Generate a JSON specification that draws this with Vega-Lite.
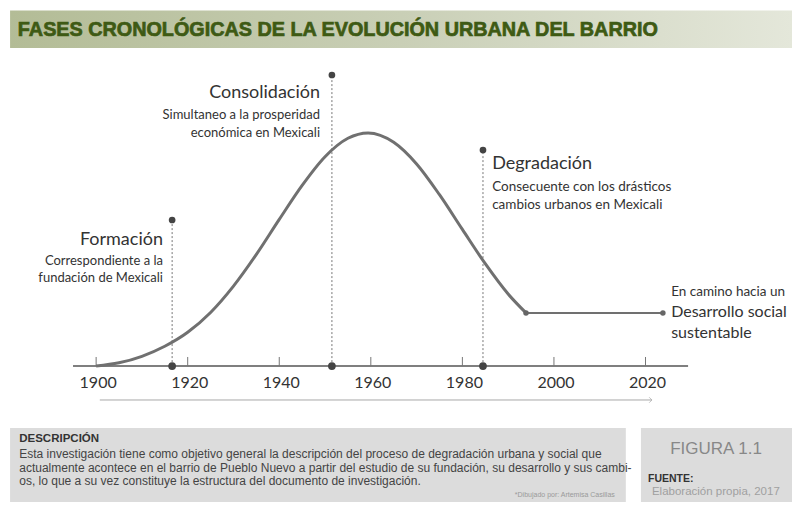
{
  "$schema": "https://vega.github.io/schema/vega-lite/v6.json",
  "width": 792,
  "height": 506,
  "padding": 0,
  "autosize": {"type": "none"},
  "background": "#ffffff",
  "config": {"view": {"stroke": null}},
  "datasets": {
    "encabezado": [{"x1": 1881.2, "x2": 2052, "y1": 152.5, "y2": 136.4}],
    "titulo": [{"anio": 1882.9, "v": 144.3, "texto": "FASES CRONOLÓGICAS DE LA EVOLUCIÓN URBANA DEL BARRIO"}],
    "cajas": [
      {"x1": 1881.2, "x2": 2015.7, "y1": -26.55, "y2": -58.3},
      {"x1": 2019.0, "x2": 2052, "y1": -26.55, "y2": -58.3}
    ],
    "eje": [{"x1": 1894.95, "x2": 2029.3, "v": 0}],
    "marcas": [
      {"anio": 1900, "etiqueta": "1900", "base": 0, "alto": 3.9, "fila": -7.25},
      {"anio": 1920, "etiqueta": "1920", "base": 0, "alto": 3.9, "fila": -7.25},
      {"anio": 1940, "etiqueta": "1940", "base": 0, "alto": 3.9, "fila": -7.25},
      {"anio": 1960, "etiqueta": "1960", "base": 0, "alto": 3.9, "fila": -7.25},
      {"anio": 1980, "etiqueta": "1980", "base": 0, "alto": 3.9, "fila": -7.25},
      {"anio": 2000, "etiqueta": "2000", "base": 0, "alto": 3.9, "fila": -7.25},
      {"anio": 2020, "etiqueta": "2020", "base": 0, "alto": 3.9, "fila": -7.25}
    ],
    "flecha": [{"x1": 1900.8, "x2": 2021.4, "v": -14.54}],
    "fases": [
      {"anio": 1916.6, "base": 0, "tope": 62.65},
      {"anio": 1951.5, "base": 0, "tope": 124.84},
      {"anio": 1984.5, "base": 0, "tope": 92.67}
    ],
    "curva": [
      {"anio": 1900, "v": 0},
      {"anio": 1905, "v": 1.4},
      {"anio": 1910, "v": 4.2},
      {"anio": 1915, "v": 8.5},
      {"anio": 1920, "v": 14.5},
      {"anio": 1925, "v": 23.0},
      {"anio": 1930, "v": 34.3},
      {"anio": 1935, "v": 47.9},
      {"anio": 1940, "v": 62.9},
      {"anio": 1945, "v": 77.5},
      {"anio": 1950, "v": 89.8},
      {"anio": 1955, "v": 97.7},
      {"anio": 1959.4, "v": 100},
      {"anio": 1965, "v": 96.0},
      {"anio": 1970, "v": 86.7},
      {"anio": 1975, "v": 73.5},
      {"anio": 1980, "v": 58.6},
      {"anio": 1985, "v": 43.9},
      {"anio": 1990, "v": 30.9},
      {"anio": 1993.9, "v": 22.8}
    ],
    "meseta": [
      {"anio": 1993.9, "v": 22.8},
      {"anio": 2023.8, "v": 22.8}
    ],
    "fase_titulo_der": [
      {"anio": 1914.6, "v": 54.07, "texto": "Formación"},
      {"anio": 1948.9, "v": 117.12, "texto": "Consolidación"}
    ],
    "fase_sub_der": [
      {"anio": 1914.6, "v": 45.07, "texto": "Correspondiente a la"},
      {"anio": 1914.6, "v": 37.78, "texto": "fundación de Mexicali"},
      {"anio": 1948.9, "v": 107.68, "texto": "Simultaneo a la prosperidad"},
      {"anio": 1948.9, "v": 99.96, "texto": "económica en Mexicali"}
    ],
    "fase_titulo_izq": [
      {"anio": 1986.5, "v": 86.67, "texto": "Degradación"}
    ],
    "desarrollo": [
      {"anio": 2025.6, "v": 23.2, "texto": "Desarrollo social"},
      {"anio": 2025.6, "v": 14.0, "texto": "sustentable"}
    ],
    "fase_sub_izq": [
      {"anio": 1986.5, "v": 76.8, "texto": "Consecuente con los drásticos"},
      {"anio": 1986.5, "v": 69.08, "texto": "cambios urbanos en Mexicali"},
      {"anio": 2025.6, "v": 31.9, "texto": "En camino hacia un"}
    ],
    "desc_titulo": [{"anio": 1883.2, "v": -31.27, "texto": "DESCRIPCIÓN"}],
    "desc_cuerpo": [
      {"anio": 1883.2, "v": -37.9, "texto": "Esta investigación tiene como objetivo general la descripción del proceso de degradación urbana y social que"},
      {"anio": 1883.2, "v": -43.5, "texto": "actualmente acontece en el barrio de Pueblo Nuevo a partir del estudio de su fundación, su desarrollo y sus cambi-"},
      {"anio": 1883.2, "v": -49.1, "texto": "os, lo que a su vez constituye la estructura del documento de investigación."}
    ],
    "credito": [{"anio": 2013.3, "v": -55.28, "texto": "*Dibujado por: Artemisa Casillas"}],
    "figura": [{"anio": 2035.4, "v": -35.6, "texto": "FIGURA 1.1"}],
    "fuente": [{"anio": 2020.55, "v": -48.4, "texto": "FUENTE:"}],
    "fuente_txt": [{"anio": 2021.4, "v": -54.0, "texto": "Elaboración propia, 2017"}]
  },
  "layer": [
    {
      "data": {"name": "encabezado"},
      "mark": {"type": "rect", "fill": {"gradient": "linear", "x1": 0, "y1": 0, "x2": 1, "y2": 0, "stops": [{"offset": 0, "color": "#b3bc96"}, {"offset": 0.5, "color": "#c9cfb6"}, {"offset": 1, "color": "#e4e7da"}]}},
      "encoding": {
        "x": {"field": "x1", "type": "quantitative", "scale": {"domain": [1879, 2052], "nice": false, "zero": false}, "axis": null},
        "x2": {"field": "x2"},
        "y": {"field": "y1", "type": "quantitative", "scale": {"domain": [-60, 157], "nice": false, "zero": false}, "axis": null},
        "y2": {"field": "y2"}
      }
    },
    {
      "data": {"name": "titulo"},
      "mark": {"type": "text", "align": "left", "baseline": "middle", "font": "Liberation Sans", "fontWeight": "bold", "fontSize": 19.8, "color": "#3e5a14", "stroke": "#3e5a14", "strokeWidth": 0.7},
      "encoding": {
        "x": {"field": "anio", "type": "quantitative"},
        "y": {"field": "v", "type": "quantitative"},
        "text": {"field": "texto"}
      }
    },
    {
      "data": {"name": "cajas"},
      "mark": {"type": "rect", "color": "#dcdcdc"},
      "encoding": {
        "x": {"field": "x1", "type": "quantitative"},
        "x2": {"field": "x2"},
        "y": {"field": "y1", "type": "quantitative"},
        "y2": {"field": "y2"}
      }
    },
    {
      "data": {"name": "eje"},
      "mark": {"type": "rule", "color": "#555555", "strokeWidth": 1.5},
      "encoding": {
        "x": {"field": "x1", "type": "quantitative"},
        "x2": {"field": "x2"},
        "y": {"field": "v", "type": "quantitative"}
      }
    },
    {
      "data": {"name": "marcas"},
      "mark": {"type": "rule", "color": "#777777", "strokeWidth": 1},
      "encoding": {
        "x": {"field": "anio", "type": "quantitative"},
        "y": {"field": "base", "type": "quantitative"},
        "y2": {"field": "alto"}
      }
    },
    {
      "data": {"name": "marcas"},
      "mark": {"type": "text", "align": "center", "baseline": "middle", "font": "Lato", "fontSize": 16, "color": "#333333", "dx": 2},
      "encoding": {
        "x": {"field": "anio", "type": "quantitative"},
        "y": {"field": "fila", "type": "quantitative"},
        "text": {"field": "etiqueta"}
      }
    },
    {
      "data": {"name": "flecha"},
      "mark": {"type": "rule", "color": "#a8a8a8", "strokeWidth": 1},
      "encoding": {
        "x": {"field": "x1", "type": "quantitative"},
        "x2": {"field": "x2"},
        "y": {"field": "v", "type": "quantitative"}
      }
    },
    {
      "data": {"name": "flecha"},
      "mark": {"type": "point", "shape": "M-1,-1L0,0L-1,1", "filled": false, "color": "#a8a8a8", "strokeWidth": 1, "size": 30},
      "encoding": {
        "x": {"field": "x2", "type": "quantitative"},
        "y": {"field": "v", "type": "quantitative"}
      }
    },
    {
      "data": {"name": "fases"},
      "mark": {"type": "rule", "color": "#777777", "strokeWidth": 1, "strokeDash": [2, 2]},
      "encoding": {
        "x": {"field": "anio", "type": "quantitative"},
        "y": {"field": "base", "type": "quantitative"},
        "y2": {"field": "tope"}
      }
    },
    {
      "data": {"name": "fases"},
      "mark": {"type": "point", "filled": true, "color": "#444444", "size": 45, "opacity": 1},
      "encoding": {
        "x": {"field": "anio", "type": "quantitative"},
        "y": {"field": "tope", "type": "quantitative"}
      }
    },
    {
      "data": {"name": "fases"},
      "mark": {"type": "point", "filled": true, "color": "#444444", "size": 60, "opacity": 1},
      "encoding": {
        "x": {"field": "anio", "type": "quantitative"},
        "y": {"field": "base", "type": "quantitative"}
      }
    },
    {
      "data": {"name": "curva"},
      "mark": {"type": "line", "interpolate": "monotone", "color": "#707070", "strokeWidth": 3},
      "encoding": {
        "x": {"field": "anio", "type": "quantitative"},
        "y": {"field": "v", "type": "quantitative"}
      }
    },
    {
      "data": {"name": "meseta"},
      "mark": {"type": "line", "color": "#707070", "strokeWidth": 2},
      "encoding": {
        "x": {"field": "anio", "type": "quantitative"},
        "y": {"field": "v", "type": "quantitative"}
      }
    },
    {
      "data": {"name": "meseta"},
      "mark": {"type": "point", "filled": true, "color": "#666666", "size": 30, "opacity": 1},
      "encoding": {
        "x": {"field": "anio", "type": "quantitative"},
        "y": {"field": "v", "type": "quantitative"}
      }
    },
    {
      "data": {"name": "fase_titulo_der"},
      "mark": {"type": "text", "align": "right", "baseline": "middle", "font": "Lato", "fontSize": 18, "color": "#333333"},
      "encoding": {
        "x": {"field": "anio", "type": "quantitative"},
        "y": {"field": "v", "type": "quantitative"},
        "text": {"field": "texto"}
      }
    },
    {
      "data": {"name": "fase_sub_der"},
      "mark": {"type": "text", "align": "right", "baseline": "middle", "font": "Lato", "fontSize": 13, "color": "#333333"},
      "encoding": {
        "x": {"field": "anio", "type": "quantitative"},
        "y": {"field": "v", "type": "quantitative"},
        "text": {"field": "texto"}
      }
    },
    {
      "data": {"name": "fase_titulo_izq"},
      "mark": {"type": "text", "align": "left", "baseline": "middle", "font": "Lato", "fontSize": 18, "color": "#333333"},
      "encoding": {
        "x": {"field": "anio", "type": "quantitative"},
        "y": {"field": "v", "type": "quantitative"},
        "text": {"field": "texto"}
      }
    },
    {
      "data": {"name": "desarrollo"},
      "mark": {"type": "text", "align": "left", "baseline": "middle", "font": "Lato", "fontSize": 16, "color": "#333333"},
      "encoding": {
        "x": {"field": "anio", "type": "quantitative"},
        "y": {"field": "v", "type": "quantitative"},
        "text": {"field": "texto"}
      }
    },
    {
      "data": {"name": "fase_sub_izq"},
      "mark": {"type": "text", "align": "left", "baseline": "middle", "font": "Lato", "fontSize": 13.5, "color": "#333333"},
      "encoding": {
        "x": {"field": "anio", "type": "quantitative"},
        "y": {"field": "v", "type": "quantitative"},
        "text": {"field": "texto"}
      }
    },
    {
      "data": {"name": "desc_titulo"},
      "mark": {"type": "text", "align": "left", "baseline": "middle", "font": "Liberation Sans", "fontWeight": "bold", "fontSize": 11.5, "color": "#333333"},
      "encoding": {
        "x": {"field": "anio", "type": "quantitative"},
        "y": {"field": "v", "type": "quantitative"},
        "text": {"field": "texto"}
      }
    },
    {
      "data": {"name": "desc_cuerpo"},
      "mark": {"type": "text", "align": "left", "baseline": "middle", "font": "Liberation Sans", "fontSize": 12, "color": "#444444"},
      "encoding": {
        "x": {"field": "anio", "type": "quantitative"},
        "y": {"field": "v", "type": "quantitative"},
        "text": {"field": "texto"}
      }
    },
    {
      "data": {"name": "credito"},
      "mark": {"type": "text", "align": "right", "baseline": "middle", "font": "Liberation Sans", "fontSize": 7, "color": "#9a9a9a"},
      "encoding": {
        "x": {"field": "anio", "type": "quantitative"},
        "y": {"field": "v", "type": "quantitative"},
        "text": {"field": "texto"}
      }
    },
    {
      "data": {"name": "figura"},
      "mark": {"type": "text", "align": "center", "baseline": "middle", "font": "Liberation Sans", "fontSize": 17, "color": "#888888"},
      "encoding": {
        "x": {"field": "anio", "type": "quantitative"},
        "y": {"field": "v", "type": "quantitative"},
        "text": {"field": "texto"}
      }
    },
    {
      "data": {"name": "fuente"},
      "mark": {"type": "text", "align": "left", "baseline": "middle", "font": "Liberation Sans", "fontWeight": "bold", "fontSize": 10.5, "color": "#333333"},
      "encoding": {
        "x": {"field": "anio", "type": "quantitative"},
        "y": {"field": "v", "type": "quantitative"},
        "text": {"field": "texto"}
      }
    },
    {
      "data": {"name": "fuente_txt"},
      "mark": {"type": "text", "align": "left", "baseline": "middle", "font": "Liberation Sans", "fontSize": 11.5, "color": "#a0a0a0"},
      "encoding": {
        "x": {"field": "anio", "type": "quantitative"},
        "y": {"field": "v", "type": "quantitative"},
        "text": {"field": "texto"}
      }
    }
  ]
}
